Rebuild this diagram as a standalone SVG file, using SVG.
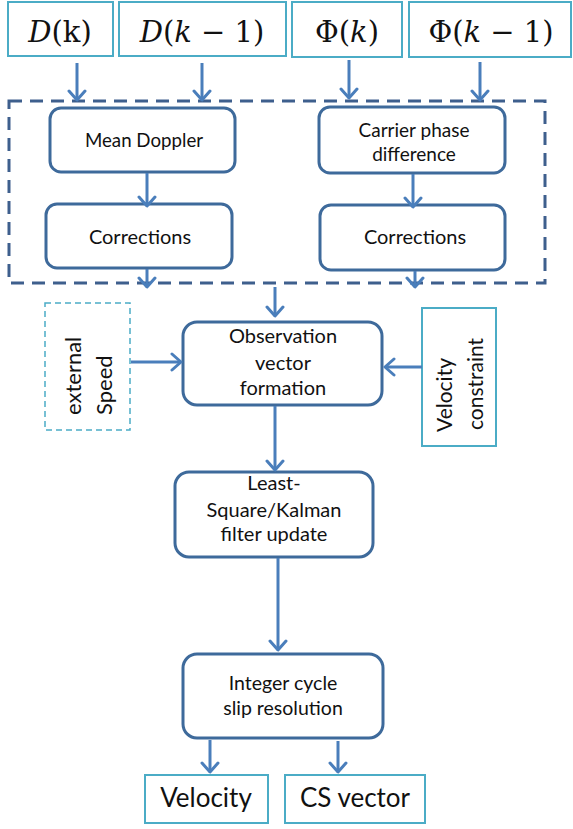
<svg xmlns="http://www.w3.org/2000/svg" width="573" height="829" viewBox="0 0 573 829">
<style>
.io{fill:#fff;stroke:#4BACC6;stroke-width:2}
.iod{fill:#fff;stroke:#4BACC6;stroke-width:1.5;stroke-dasharray:6 4}
.nd{fill:#fff;stroke:#3E6A9B;stroke-width:3}
.grp{fill:none;stroke:#3E5F8D;stroke-width:3;stroke-dasharray:13 8}
.t{font-family:Lato,"Liberation Sans",sans-serif;fill:#111;text-anchor:middle}
.m{font-family:"DejaVu Serif","Liberation Serif",serif;fill:#111;text-anchor:middle;font-size:29px}
.c{fill:none;stroke:#4A7EBB;stroke-width:3}
</style>
<defs>
<marker id="ah" markerUnits="userSpaceOnUse" viewBox="-12 -10 14 20" markerWidth="14" markerHeight="20" refX="0" refY="0" orient="auto">
<path d="M-9,-8 L0,0 L-9,8" fill="none" stroke="#4A7EBB" stroke-width="3" stroke-linecap="round" stroke-linejoin="round"/>
</marker>
</defs>
<g id="group-box"><rect class="grp" x="9" y="101" width="536" height="182"/></g>
<g id="n-dk"><rect class="io" x="8" y="2" width="105" height="54"/><text class="m" x="60" y="42"><tspan font-style="italic">D</tspan>(k)</text></g>
<g id="n-dk1"><rect class="io" x="119" y="2" width="167" height="54"/><text class="m" x="202" y="42"><tspan font-style="italic">D</tspan>(<tspan font-style="italic">k</tspan> − 1)</text></g>
<g id="n-pk"><rect class="io" x="292" y="2" width="110" height="55"/><text class="m" x="347" y="42">Φ(<tspan font-style="italic">k</tspan>)</text></g>
<g id="n-pk1"><rect class="io" x="409" y="2" width="162" height="55"/><text class="m" x="491" y="42">Φ(<tspan font-style="italic">k</tspan> − 1)</text></g>
<g id="n-mean"><rect class="nd" x="50" y="108" width="185" height="64" rx="11"/><text class="t" x="144" y="147" font-size="18.7">Mean Doppler</text></g>
<g id="n-corrL"><rect class="nd" x="46" y="204" width="186" height="64" rx="11"/><text class="t" x="140" y="244" font-size="20">Corrections</text></g>
<g id="n-carrier"><rect class="nd" x="319" y="107" width="186" height="66" rx="11"/><text class="t" x="414" y="137" font-size="19">Carrier phase</text><text class="t" x="414" y="161" font-size="19">difference</text></g>
<g id="n-corrR"><rect class="nd" x="320" y="205" width="185" height="65" rx="11"/><text class="t" x="415" y="244" font-size="20">Corrections</text></g>
<g id="n-obs"><rect class="nd" x="183" y="322" width="199" height="83" rx="14"/><text class="t" x="283" y="343" font-size="20">Observation</text><text class="t" x="283" y="370" font-size="20">vector</text><text class="t" x="283" y="395" font-size="20">formation</text></g>
<g id="n-ext"><rect class="iod" x="45" y="303" width="85" height="127"/><text class="t" style="text-anchor:start" font-size="22" transform="translate(81,415) rotate(-90)">external</text><text class="t" style="text-anchor:start" font-size="22" transform="translate(112,415) rotate(-90)">Speed</text></g>
<g id="n-velc"><rect class="io" x="422" y="308" width="74" height="138"/><text class="t" style="text-anchor:start" font-size="21" transform="translate(452,432) rotate(-90)">Velocity</text><text class="t" style="text-anchor:start" font-size="21" transform="translate(483,430) rotate(-90)">constraint</text></g>
<g id="n-ls"><rect class="nd" x="175" y="472" width="198" height="85" rx="14"/><text class="t" x="274" y="490" font-size="20">Least-</text><text class="t" x="274" y="517" font-size="20">Square/Kalman</text><text class="t" x="274" y="541" font-size="20">filter update</text></g>
<g id="n-int"><rect class="nd" x="183" y="654" width="200" height="84" rx="14"/><text class="t" x="283" y="690" font-size="19.5">Integer cycle</text><text class="t" x="283" y="715" font-size="19.5">slip resolution</text></g>
<g id="n-vel"><rect class="io" x="145" y="775" width="123" height="48"/><text class="t" x="206" y="807" font-size="26">Velocity</text></g>
<g id="n-cs"><rect class="io" x="285" y="775" width="140" height="48"/><text class="t" x="355" y="807" font-size="26">CS vector</text></g>
<g id="connectors">
<line class="c" x1="77" y1="63" x2="77" y2="100" marker-end="url(#ah)"/>
<line class="c" x1="202" y1="63" x2="202" y2="100" marker-end="url(#ah)"/>
<line class="c" x1="349" y1="60" x2="349" y2="98" marker-end="url(#ah)"/>
<line class="c" x1="480" y1="62" x2="480" y2="100" marker-end="url(#ah)"/>
<line class="c" x1="147" y1="173" x2="147" y2="206" marker-end="url(#ah)"/>
<line class="c" x1="413" y1="174" x2="413" y2="207" marker-end="url(#ah)"/>
<line class="c" x1="147" y1="269" x2="147" y2="287" marker-end="url(#ah)"/>
<line class="c" x1="415" y1="271" x2="415" y2="287" marker-end="url(#ah)"/>
<line class="c" x1="275" y1="287" x2="275" y2="316" marker-end="url(#ah)"/>
<line class="c" x1="131" y1="362" x2="181" y2="362" marker-end="url(#ah)"/>
<line class="c" x1="422" y1="367" x2="385" y2="367" marker-end="url(#ah)"/>
<line class="c" x1="275" y1="406" x2="275" y2="470" marker-end="url(#ah)"/>
<line class="c" x1="278" y1="558" x2="278" y2="650" marker-end="url(#ah)"/>
<line class="c" x1="210" y1="740" x2="210" y2="772" marker-end="url(#ah)"/>
<line class="c" x1="338" y1="741" x2="338" y2="772" marker-end="url(#ah)"/>
</g>
</svg>
